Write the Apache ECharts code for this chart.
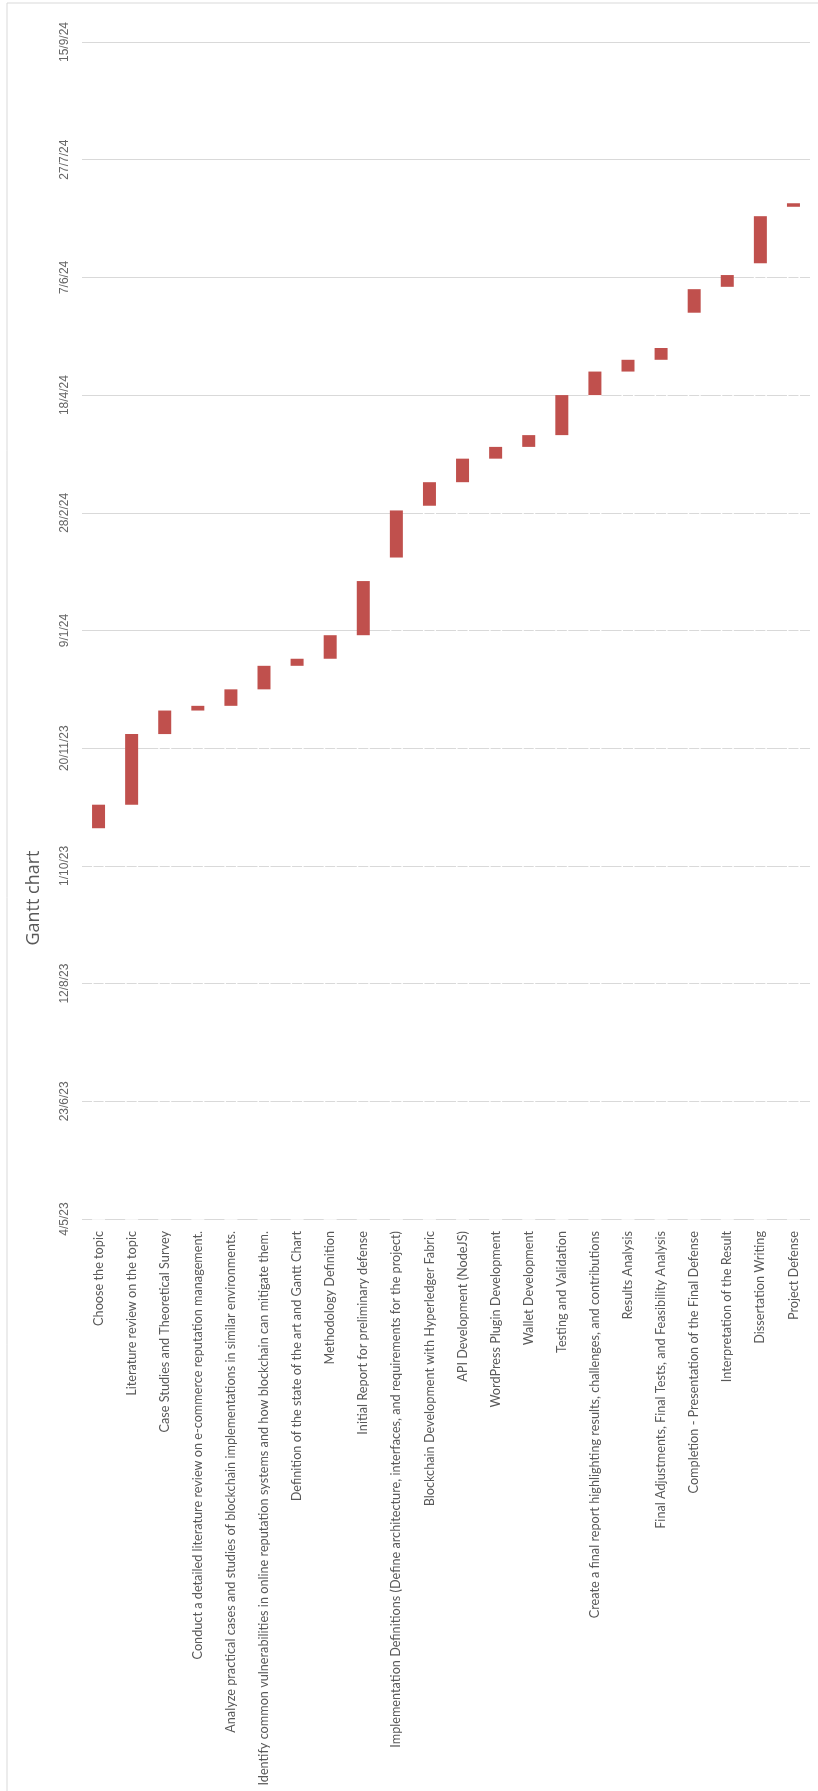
<!DOCTYPE html>
<html>
<head>
<meta charset="utf-8">
<script src="https://cdn.jsdelivr.net/npm/echarts@6/dist/echarts.min.js"></script>
<style>
  html, body { margin: 0; padding: 0; background: #fff; }
  #gantt { width: 818px; height: 1791px; }
</style>
</head>
<body>
<div id="gantt"></div>
<script>
  let tasks = [
    'Choose the topic',
    'Literature review on the topic',
    'Case Studies and Theoretical Survey',
    'Conduct a detailed literature review on e-commerce reputation management.',
    'Analyze practical cases and studies of blockchain implementations in similar environments.',
    'Identify common vulnerabilities in online reputation systems and how blockchain can mitigate them.',
    'Definition of the state of the art and Gantt Chart',
    'Methodology Definition',
    'Initial Report for preliminary defense',
    'Implementation Definitions (Define architecture, interfaces, and requirements for the project)',
    'Blockchain Development with Hyperledger Fabric',
    'API Development (NodeJS)',
    'WordPress Plugin Development',
    'Wallet Development',
    'Testing and Validation',
    'Create a final report highlighting results, challenges, and contributions',
    'Results Analysis',
    'Final Adjustments, Final Tests, and Feasibility Analysis',
    'Completion - Presentation of the Final Defense',
    'Interpretation of the Result',
    'Dissertation Writing',
    'Project Defense'
  ];

  let startDates = [
    '2023-10-17', '2023-10-27', '2023-11-26', '2023-12-06', '2023-12-08',
    '2023-12-15', '2023-12-25', '2023-12-28', '2024-01-07', '2024-02-09',
    '2024-03-02', '2024-03-12', '2024-03-22', '2024-03-27', '2024-04-01',
    '2024-04-18', '2024-04-28', '2024-05-03', '2024-05-23', '2024-06-03',
    '2024-06-13', '2024-07-07'
  ];

  // days
  let durations = [10, 30, 10, 2, 7, 10, 3, 10, 23, 20, 10, 10, 5, 5, 17, 10, 5, 5, 10, 5, 20, 1.5];

  let dateTicks = [
    '2023-05-04', '2023-06-23', '2023-08-12', '2023-10-01', '2023-11-20', '2024-01-09',
    '2024-02-28', '2024-04-18', '2024-06-07', '2024-07-27', '2024-09-15'
  ];

  // excel style day numbers
  function toSerial(s) {
    let p = s.split('-');
    return (Date.UTC(+p[0], p[1] - 1, +p[2]) - Date.UTC(1899, 11, 30)) / 86400000;
  }
  function fmtSerial(n) {
    let d = new Date(Date.UTC(1899, 11, 30) + Math.round(n) * 86400000);
    return d.getUTCDate() + '/' + (d.getUTCMonth() + 1) + '/' + String(d.getUTCFullYear()).slice(2);
  }

  let axisMin = toSerial(dateTicks[0]);
  let axisMax = toSerial(dateTicks[dateTicks.length - 1]);
  let step = toSerial(dateTicks[1]) - axisMin;

  let myChart = echarts.init(document.getElementById('gantt'));
  myChart.setOption({
    animation: false,
    textStyle: { fontFamily: 'Lato, "Liberation Sans", sans-serif' },
    graphic: [
      {
        type: 'rect',
        shape: { x: 7, y: 3, width: 830, height: 1800 },
        style: { fill: 'none', stroke: '#d9d9d9', lineWidth: 1 },
        silent: true
      },
      {
        type: 'text',
        x: 34,
        y: 898,
        rotation: Math.PI / 2,
        style: {
          text: 'Gantt chart',
          fill: '#595959',
          fontSize: 18,
          fontFamily: '"Open Sans", sans-serif',
          align: 'center',
          verticalAlign: 'middle'
        }
      }
    ],
    grid: { left: 82, right: 8, top: 42, bottom: 572 },
    xAxis: {
      type: 'category',
      data: tasks,
      axisLine: { show: false },
      axisTick: { show: false },
      axisLabel: {
        interval: 0,
        rotate: 90,
        margin: 12,
        color: '#595959',
        fontSize: 12.7
      }
    },
    yAxis: {
      type: 'value',
      min: axisMin,
      max: axisMax,
      interval: step,
      axisLine: { show: false },
      axisTick: { show: false },
      splitLine: { lineStyle: { color: '#d9d9d9', width: 1.2 } },
      axisLabel: {
        rotate: 90,
        margin: 11,
        color: '#666',
        fontSize: 12,
        fontFamily: '"Liberation Sans", sans-serif',
        formatter: fmtSerial
      }
    },
    series: [
      {
        name: 'Start',
        type: 'bar',
        stack: 'gantt',
        barWidth: 13,
        silent: true,
        clip: true,
        itemStyle: { color: 'transparent', borderColor: '#fff', borderWidth: 1.5 },
        data: startDates.map(toSerial)
      },
      {
        name: 'Duration',
        type: 'bar',
        stack: 'gantt',
        barWidth: 13,
        itemStyle: { color: '#c0504d' },
        data: durations
      }
    ]
  });
</script>
</body>
</html>
